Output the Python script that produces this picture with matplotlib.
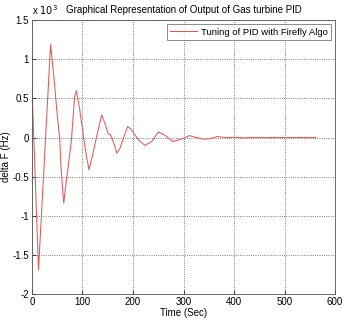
import numpy as np
import matplotlib
matplotlib.use('Agg')
import matplotlib.pyplot as plt

# response (values in units of 10^3)
t = [0, 13, 37, 45, 50, 55, 58, 63, 68, 74.6, 78, 84.5, 87.8, 94.4, 101.7, 108, 113,
     121, 128, 138, 144.5, 151, 156, 163, 168, 174, 181, 189.5, 197, 204, 214, 224,
     237, 250, 263, 278.6, 296, 311.5, 326, 339, 352, 367, 382, 401, 420, 440, 460,
     480, 500, 520, 540, 562]
dF = [0.68, -1.69, 1.19, 0.67, 0.29, -0.01, -0.43, -0.84, -0.56, -0.22, -0.05, 0.52, 0.60,
      0.37, 0.03, -0.24, -0.41, -0.20, 0.01, 0.29, 0.18, 0.05, 0.03, -0.09, -0.20, -0.14,
      -0.01, 0.14, 0.10, 0.03, -0.05, -0.10, -0.05, 0.07, 0.03, -0.05, -0.02, 0.025, 0.0,
      -0.02, -0.015, 0.013, 0.0, 0.004, -0.004, 0.003, -0.002, 0.002, -0.001, 0.001, 0.0, 0.0]

xticks = [0, 100, 200, 300, 400, 500, 600]
yticks = [-2, -1.5, -1, -0.5, 0, 0.5, 1, 1.5]
ytlabels = ['-2', '-1.5', '-1', '-0.5', '0', '0.5', '1', '1.5']

plt.rcParams['font.family'] = ['Liberation Sans Narrow', 'Liberation Sans', 'DejaVu Sans']

fig = plt.figure(figsize=(3.43, 3.2), dpi=100)
ax = fig.add_axes([0.093, 0.081, 0.884, 0.856])
ax.plot(t, dF, color='#e05a5a', lw=0.75, label='Tuning of PID with Firefly Algo')
ax.set_xlim(0, 600)
ax.set_ylim(-2, 1.5)
ax.set_xticks(xticks)
ax.set_yticks(yticks)
ax.set_yticklabels(ytlabels)
ax.tick_params(direction='in', labelsize=7, length=3, width=0.5, pad=2)
ax.grid(True, linestyle=':', color='#555555', lw=0.6)
for s in ax.spines.values():
    s.set_linewidth(0.6)
    s.set_color('#555555')
ax.set_xlabel('Time (Sec)', fontsize=7, labelpad=1)
ax.set_ylabel('delta F (Hz)', fontsize=7, labelpad=1)
ax.set_title('Graphical Representation of Output of Gas turbine PID', fontsize=7, pad=5)
ax.text(0.0, 1.012, r'x $10^3$', transform=ax.transAxes, fontsize=7, ha='left', va='bottom')
leg = ax.legend(loc='upper right', fontsize=6.8, frameon=True, fancybox=False, borderpad=0.4,
                handlelength=2.8, handletextpad=0.4, borderaxespad=0.4)
leg.get_frame().set_edgecolor('#555555')
leg.get_frame().set_linewidth(0.6)
fig.savefig('out.png', dpi=100)
